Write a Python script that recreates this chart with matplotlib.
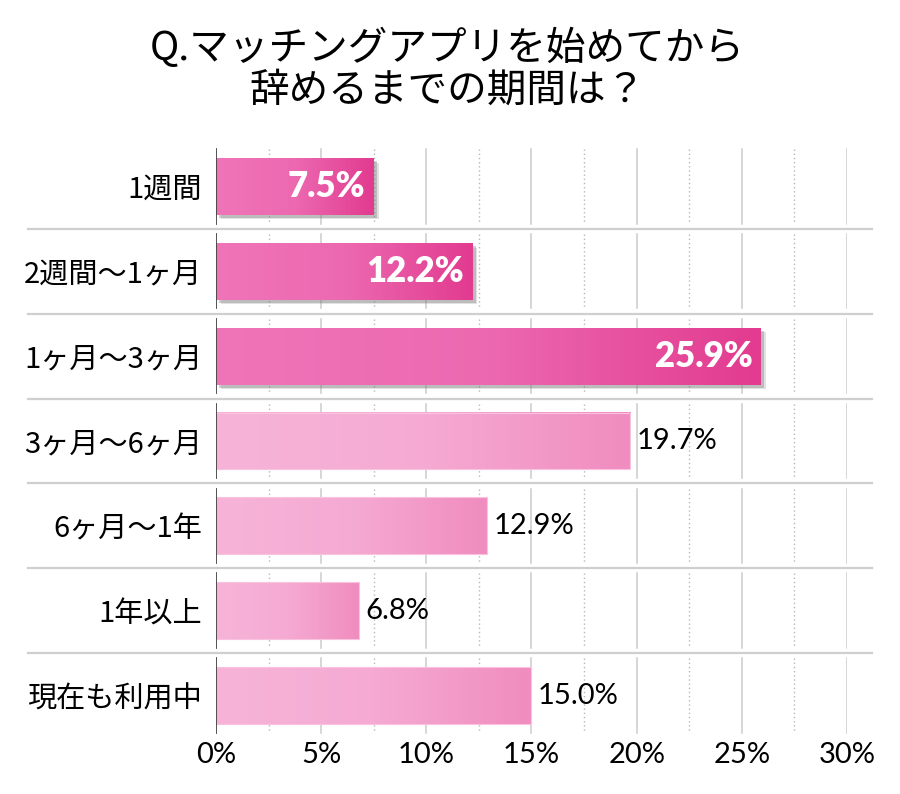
import numpy as np
import matplotlib
matplotlib.use("Agg")
import matplotlib.pyplot as plt
import matplotlib.patheffects as pe
from matplotlib.colors import LinearSegmentedColormap
from matplotlib.patches import Rectangle

title = "Q.マッチングアプリを始めてから\n辞めるまでの期間は？"
categories = ["1週間", "2週間〜1ヶ月", "1ヶ月〜3ヶ月", "3ヶ月〜6ヶ月", "6ヶ月〜1年", "1年以上", "現在も利用中"]
values = [7.5, 12.2, 25.9, 19.7, 12.9, 6.8, 15.0]
n_top = 3  # the first three rows are highlighted
xticks = [0, 5, 10, 15, 20, 25, 30]
xtick_labels = [f"{t}%" for t in xticks]

JP = ["Noto Sans CJK JP", "DejaVu Sans"]
NUM = ["Lato", "DejaVu Sans"]

dark_cmap = LinearSegmentedColormap.from_list("dark", ["#f074b8", "#ec69b0", "#e23b8f"])
light_cmap = LinearSegmentedColormap.from_list("light", ["#f7b4d8", "#f5aad3", "#f08cbf"])
grad = np.linspace(0, 1, 256).reshape(1, -1)

fig = plt.figure(figsize=(9, 7.94), dpi=100)
ax = fig.add_axes([0.24, 0.0702, 0.7011, 0.7488])

bar_h = 0.67
gap = 0.06
n = len(categories)

for i, (cat, v) in enumerate(zip(categories, values)):
    top, bot = i - 0.5 + gap, i + 0.5 - gap
    # vertical grid, broken at each row separator
    for t in np.arange(2.5, 30.1, 2.5):
        if t % 5 == 0:
            ax.plot([t, t], [top, bot], color="#cccccc", lw=1.1, zorder=1)
        else:
            ax.plot([t, t], [top, bot], color="#b8b8b8", lw=1.0, ls=(0, (1, 2)), zorder=1)
    ax.plot([0, 0], [top, bot], color="#444444", lw=1.3, zorder=4)

    y0, y1 = i - bar_h / 2, i + bar_h / 2
    if i < n_top:
        base = Rectangle((0, y0), v, bar_h, facecolor="#e23b8f", zorder=2,
                         path_effects=[pe.SimplePatchShadow(offset=(3.5, -3.5), shadow_rgbFace="#888888", alpha=0.25),
                                       pe.SimplePatchShadow(offset=(2.5, -2.5), shadow_rgbFace="#777777", alpha=0.35),
                                       pe.Normal()])
        ax.add_patch(base)
        ax.imshow(grad, cmap=dark_cmap, extent=[0, v, y1, y0], aspect="auto", zorder=3,
                  interpolation="bilinear")
        ax.text(v - 0.4, i, f"{v:.1f}%", ha="right", va="center", color="white",
                fontsize=25, fontweight="heavy", family=NUM, zorder=5)
    else:
        ax.imshow(grad, cmap=light_cmap, extent=[0, v, y1, y0], aspect="auto", zorder=3,
                  interpolation="bilinear")
        ax.add_patch(Rectangle((0, y0), v, bar_h, facecolor="none", edgecolor="#f9c3df", lw=0.8, zorder=3))
        ax.text(v + 0.3, i, f"{v:.1f}%", ha="left", va="center", color="black",
                fontsize=21, family=NUM, zorder=5)

# row separators
for k in range(1, n):
    ax.plot([-0.298, 1.04], [k - 0.5, k - 0.5], color="#cfcfcf", lw=1.6,
            transform=ax.get_yaxis_transform(), clip_on=False, zorder=1)

ax.set_xlim(0, 30)
ax.set_ylim(n - 0.5, -0.5)
ax.set_xticks(xticks)
ax.set_xticklabels(xtick_labels, family=NUM, fontsize=21)
ax.set_yticks(range(n))
ax.set_yticklabels(categories, family=JP, fontsize=21)
ax.tick_params(axis="both", length=0)
ax.tick_params(axis="y", pad=10)
ax.tick_params(axis="x", pad=3)
for s in ax.spines.values():
    s.set_visible(False)

fig.text(0.497, 0.912, title, ha="center", va="center", fontsize=28.5, family=JP,
         linespacing=1.05)

fig.savefig("out.png", dpi=100, facecolor="white")
